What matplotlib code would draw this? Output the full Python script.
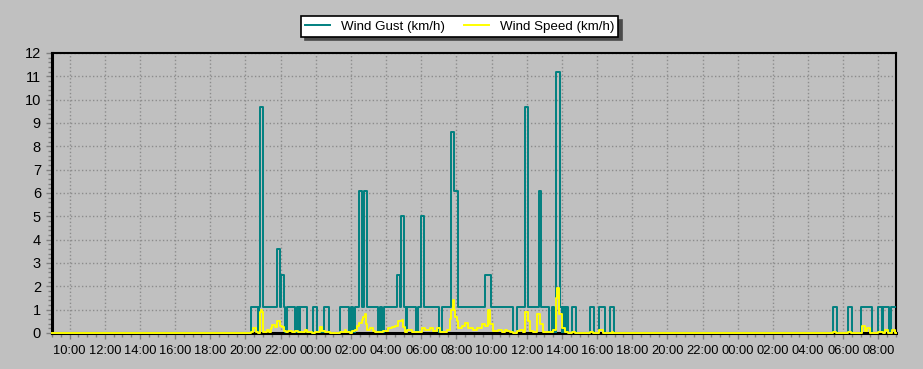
import matplotlib
matplotlib.use('Agg')
import matplotlib.pyplot as plt
import matplotlib.dates as mdates
import pandas as pd

plt.rcParams['font.family'] = ['Liberation Sans', 'DejaVu Sans']

# hours since 09:00 on the first day, value held until the next change
gust_hours = [0.0, 11.33, 11.73, 11.79, 11.85, 12.02, 12.81, 12.98, 13.04, 13.21,
              13.27, 13.38, 13.84, 13.92, 14.06, 14.12, 14.52, 14.86, 15.05, 15.49,
              15.77, 16.38, 16.87, 17.02, 17.14, 17.23, 17.48, 17.65, 17.76, 17.93,
              18.56, 18.67, 18.79, 18.90, 19.64, 19.81, 19.87, 20.03, 20.12, 20.17,
              20.68, 20.83, 21.00, 21.17, 22.03, 22.16, 22.71, 22.88, 23.11, 24.64,
              24.98, 26.24, 26.46, 26.92, 27.09, 27.71, 27.83, 28.28, 28.42, 28.57,
              28.68, 28.87, 29.02, 29.08, 29.19, 29.23, 29.36, 29.59, 29.78, 30.61,
              30.81, 31.13, 31.43, 31.75, 31.94, 44.43, 44.63, 45.29, 45.48, 46.03,
              46.62, 47.00, 47.19, 47.28, 47.59, 47.73, 48.0]
gust_kmh = [0.0, 1.1, 0.0, 1.1, 9.7, 1.1, 3.6, 1.1, 2.5, 1.1,
            0.0, 1.1, 0.0, 1.1, 0.0, 1.1, 0.0, 1.1, 0.0, 1.1,
            0.0, 1.1, 0.0, 1.1, 0.0, 1.1, 6.1, 1.1, 6.1, 1.1,
            0.0, 1.1, 0.0, 1.1, 2.5, 1.1, 5.0, 1.1, 0.0, 1.1,
            0.0, 1.1, 5.0, 1.1, 0.0, 1.1, 8.6, 6.1, 1.1, 2.5,
            1.1, 0.0, 1.1, 9.7, 1.1, 6.1, 1.1, 0.0, 1.1, 0.0,
            11.2, 1.1, 0.0, 1.1, 0.0, 1.1, 0.0, 1.1, 0.0, 1.1,
            0.0, 1.1, 0.0, 1.1, 0.0, 1.1, 0.0, 1.1, 0.0, 1.1,
            0.0, 1.1, 0.0, 1.1, 0.0, 1.1, 1.1]

speed_hours = [0.0, 11.32, 11.45, 11.58, 11.73, 11.83, 11.89, 11.96, 12.02, 12.21,
               12.34, 12.45, 12.53, 12.68, 12.78, 12.97, 13.06, 13.21, 13.29, 13.44,
               13.63, 13.82, 14.01, 14.39, 14.48, 14.77, 14.96, 15.24, 15.34, 15.53,
               15.81, 16.38, 16.66, 16.72, 16.95, 17.04, 17.23, 17.36, 17.48, 17.61,
               17.70, 17.78, 17.86, 17.93, 18.08, 18.24, 18.37, 18.84, 19.13, 19.32,
               19.51, 19.69, 19.89, 19.98, 20.08, 20.17, 20.46, 21.03, 21.21, 21.50,
               21.68, 21.88, 22.07, 22.45, 22.63, 22.71, 22.79, 22.86, 22.94, 23.05,
               23.11, 23.30, 23.49, 23.68, 23.96, 24.15, 24.44, 24.62, 24.81, 24.91,
               25.10, 25.38, 25.57, 25.76, 25.86, 26.05, 26.23, 26.43, 26.62, 26.80,
               26.90, 27.09, 27.18, 27.37, 27.56, 27.75, 27.94, 28.51, 28.66, 28.72,
               28.83, 28.99, 29.17, 29.36, 29.56, 29.74, 30.60, 30.78, 31.13, 31.35,
               31.83, 31.92, 44.43, 44.59, 45.29, 45.42, 46.05, 46.24, 46.33, 46.52,
               46.99, 47.28, 47.37, 47.56, 47.75, 47.94, 48.0]
speed_kmh = [0.0, 0.05, 0.2, 0.05, 0.0, 0.9, 1.0, 0.9, 0.05, 0.15,
             0.05, 0.2, 0.35, 0.25, 0.5, 0.3, 0.25, 0.1, 0.05, 0.1,
             0.05, 0.1, 0.05, 0.15, 0.05, 0.0, 0.05, 0.25, 0.1, 0.05,
             0.0, 0.05, 0.15, 0.05, 0.0, 0.1, 0.15, 0.3, 0.45, 0.55,
             0.7, 0.8, 0.4, 0.15, 0.2, 0.1, 0.05, 0.1, 0.2, 0.25,
             0.3, 0.5, 0.55, 0.25, 0.05, 0.15, 0.05, 0.2, 0.15, 0.2,
             0.1, 0.2, 0.05, 0.15, 0.6, 1.0, 1.4, 1.0, 0.7, 0.5,
             0.2, 0.3, 0.45, 0.2, 0.15, 0.2, 0.4, 0.3, 1.0, 0.4,
             0.1, 0.15, 0.05, 0.15, 0.1, 0.05, 0.0, 0.1, 0.15, 0.05,
             0.9, 0.5, 0.1, 0.05, 0.8, 0.4, 0.05, 0.15, 1.5, 1.95,
             0.8, 0.2, 0.05, 0.0, 0.05, 0.0, 0.05, 0.0, 0.15, 0.0,
             0.05, 0.0, 0.05, 0.0, 0.05, 0.0, 0.3, 0.1, 0.2, 0.0,
             0.05, 0.0, 0.15, 0.0, 0.15, 0.0, 0.0]

start = pd.Timestamp('2024-01-01 09:00')
gust_t = start + pd.to_timedelta(gust_hours, unit='h')
speed_t = start + pd.to_timedelta(speed_hours, unit='h')

bg = '#c0c0c0'
fig = plt.figure(figsize=(9.23, 3.69), dpi=100, facecolor=bg)
ax = fig.add_axes([52/923, 1-333/369, 844/923, 280/369], facecolor=bg)

ax.plot(gust_t, gust_kmh, drawstyle='steps-post', color='#008080', lw=1.4,
        label='Wind Gust (km/h)', zorder=3)
ax.plot(speed_t, speed_kmh, drawstyle='steps-post', color='#ffff00', lw=1.4,
        label='Wind Speed (km/h)', zorder=4, clip_on=False)

ax.set_xlim(start, start + pd.Timedelta(hours=48))
ax.set_ylim(0, 12)
ax.set_yticks(range(0, 13))
ax.yaxis.set_minor_locator(plt.MultipleLocator(0.2))
ax.xaxis.set_major_locator(mdates.HourLocator(byhour=range(0, 24, 2)))
ax.xaxis.set_minor_locator(mdates.MinuteLocator(byminute=[0, 30]))
ax.xaxis.set_major_formatter(mdates.DateFormatter('%H:%M'))

ax.tick_params(which='major', length=4, width=1, color='#808080', pad=4)
ax.tick_params(which='minor', length=3, width=1, color='#808080')
ax.tick_params(axis='y', labelsize=10.5)
ax.tick_params(axis='x', labelsize=9.3, pad=5)
ax.grid(True, which='major', ls=':', color='#8c8c8c', lw=1)

for side in ['left', 'bottom']:
    ax.spines[side].set_linewidth(2.2)
for side in ['top', 'right']:
    ax.spines[side].set_linewidth(1.5)
for s in ax.spines.values():
    s.set_color('black')

leg = fig.legend(loc='center', bbox_to_anchor=(0.498, 0.928), ncol=2, fontsize=9.6,
                 frameon=True, fancybox=False, edgecolor='black', framealpha=1,
                 handlelength=1.9, columnspacing=1.4, borderpad=0.3,
                 shadow={'ox': 2.5, 'oy': -2.5, 'color': '#4a4a4a', 'alpha': 1})
leg.get_frame().set_linewidth(1.2)

fig.savefig('out.png', dpi=100, facecolor=bg)
